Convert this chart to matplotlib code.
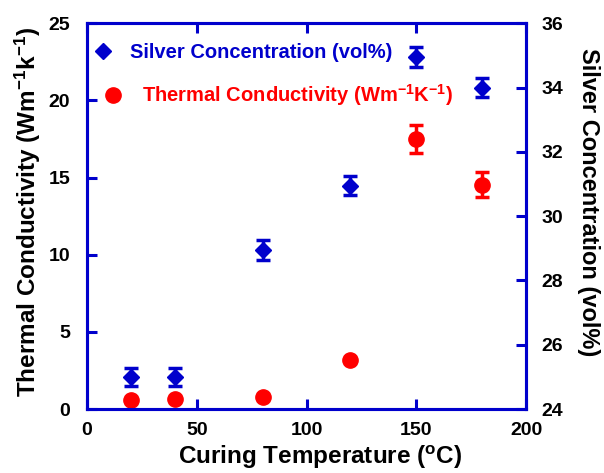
import matplotlib.pyplot as plt
from matplotlib.ticker import MultipleLocator

plt.rcParams["font.family"] = ["Liberation Sans", "DejaVu Sans"]
plt.rcParams["font.weight"] = "bold"
plt.rcParams["mathtext.fontset"] = "custom"
plt.rcParams["mathtext.rm"] = "Liberation Sans:bold"
plt.rcParams["mathtext.bf"] = "Liberation Sans:bold"
plt.rcParams["mathtext.default"] = "bf"

# data
temp = [20, 40, 80, 120, 150, 180]
silver = [25.0, 25.0, 28.95, 30.95, 34.95, 34.0]
silver_err = [0.27, 0.27, 0.3, 0.3, 0.3, 0.3]
tc = [0.58, 0.65, 0.76, 3.2, 17.5, 14.55]
tc_err = [0, 0, 0, 0, 0.9, 0.78]

BLUE = "#0000cc"
RED = "#ff0000"

fig = plt.figure(figsize=(6.04, 4.73), dpi=100)
ax = fig.add_axes([0.144, 0.135, 0.727, 0.816])
ax2 = ax.twinx()

h_tc = ax.errorbar(temp, tc, yerr=tc_err, fmt="o", color=RED, ms=11,
                   ecolor=RED, elinewidth=2.5, capsize=5, capthick=2.5)
h_ag = ax2.errorbar(temp, silver, yerr=silver_err, fmt="D", color=BLUE, ms=8,
                    ecolor=BLUE, elinewidth=2.5, capsize=5, capthick=2.5)

ax.set_xlim(0, 200)
ax.set_ylim(0, 25)
ax2.set_ylim(24, 36)
ax.xaxis.set_major_locator(MultipleLocator(50))
ax.yaxis.set_major_locator(MultipleLocator(5))
ax2.yaxis.set_major_locator(MultipleLocator(2))

for a in (ax, ax2):
    for s in a.spines.values():
        s.set_color(BLUE)
        s.set_linewidth(2.2)
ax.tick_params(axis="both", direction="in", length=7, width=2.2, color=BLUE,
               labelsize=14, top=True)
ax.tick_params(axis="x", pad=9)
ax.tick_params(axis="y", pad=12)
ax2.tick_params(axis="y", direction="in", length=7, width=2.2, color=BLUE,
                labelsize=14, pad=11)

ax.set_xlabel(r"Curing Temperature ($^{o}$C)", fontsize=17.5, fontweight="bold", va="center")
ax.xaxis.set_label_coords(0.531, -0.124)
ax.set_ylabel(r"Thermal Conductivity (Wm$^{-1}$k$^{-1}$)", fontsize=17.5, fontweight="bold", va="center")
ax.yaxis.set_label_coords(-0.134, 0.51)
ax2.set_ylabel("Silver Concentration (vol%)", fontsize=17, fontweight="bold",
               rotation=270, va="center")
ax2.yaxis.set_label_coords(1.143, 0.536)

leg1 = ax2.legend([h_ag[0]], ["Silver Concentration (vol%)"], loc="center left",
                  bbox_to_anchor=(-0.005, 0.925), frameon=False,
                  labelcolor=BLUE, handlelength=1.0, handletextpad=0.85,
                  borderaxespad=0, prop={"weight": "bold", "size": 14.5})
ax2.add_artist(leg1)
ax2.legend([h_tc[0]], [r"Thermal Conductivity (Wm$^{-1}$K$^{-1}$)"], loc="center left",
           bbox_to_anchor=(0.018, 0.813), frameon=False,
           labelcolor=RED, handlelength=1.0, handletextpad=0.95,
           borderaxespad=0, prop={"weight": "bold", "size": 14.5})

fig.savefig("out.png", dpi=100)
